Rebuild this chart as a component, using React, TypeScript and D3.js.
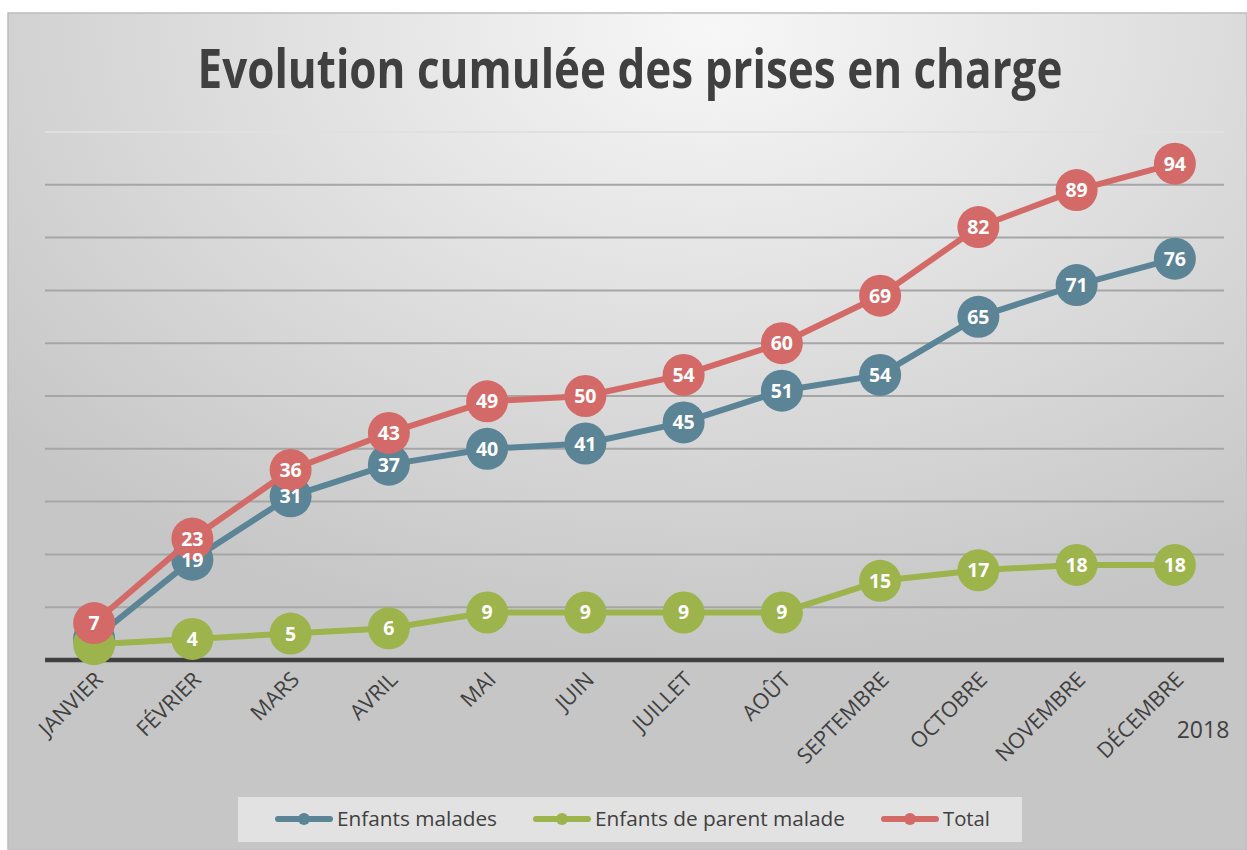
import React from "react";
import * as d3 from "d3";

const months = ["JANVIER", "FÉVRIER", "MARS", "AVRIL", "MAI", "JUIN", "JUILLET", "AOÛT", "SEPTEMBRE", "OCTOBRE", "NOVEMBRE", "DÉCEMBRE"];
const enfantsMalades = [4, 19, 31, 37, 40, 41, 45, 51, 54, 65, 71, 76];
const enfantsParentMalade = [3, 4, 5, 6, 9, 9, 9, 9, 15, 17, 18, 18];
const total = [7, 23, 36, 43, 49, 50, 54, 60, 69, 82, 89, 94];
const yTicks = [0, 10, 20, 30, 40, 50, 60, 70, 80, 90, 100];
const seriesNames = ["Enfants malades", "Enfants de parent malade", "Total"];
const seriesColors = ["#5b8496", "#9db34b", "#d46a67"];
const title = "Evolution cumulée des prises en charge";
const yearLabel = "2018";

const W = 1247;
const H = 850;
const FONT = "'Open Sans', 'Noto Sans', sans-serif";

export default function App() {
  const x = d3.scaleBand<string>().domain(months).range([45, 1224]);
  const y = d3.scaleLinear().domain([0, 100]).range([660, 132]);
  const cx = (m: string) => (x(m) as number) + x.bandwidth() / 2;
  const line = d3
    .line<number>()
    .x((_, i) => cx(months[i]))
    .y((d) => y(d));
  const series = [enfantsMalades, enfantsParentMalade, total];

  const legendItems = [
    { lx: 278, tx: 337, tl: 160 },
    { lx: 536, tx: 595, tl: 250 },
    { lx: 884, tx: 943, tl: 47 },
  ];

  return (
    <svg width={W} height={H} style={{ position: "absolute", left: 0, top: 0 }} fontFamily={FONT}>
      <defs>
        <radialGradient id="bg" cx="0.57" cy="0.02" r="0.75" gradientUnits="objectBoundingBox">
          <stop offset="0" stopColor="#f7f7f7" />
          <stop offset="0.55" stopColor="#dcdcdc" />
          <stop offset="1" stopColor="#c6c6c6" />
        </radialGradient>
      </defs>
      <rect x={0} y={0} width={W} height={H} fill="#ffffff" />
      <rect x={8} y={13} width={W - 8} height={H - 13} fill="url(#bg)" stroke="#bdbdbd" strokeWidth={1.5} />

      <text x={630} y={88} textAnchor="middle" fontSize={53} fontWeight={700} fill="#404040" textLength={865} lengthAdjust="spacingAndGlyphs">
        {title}
      </text>

      {yTicks.slice(1).map((t) => (
        <line key={"g" + t} x1={45} x2={1224} y1={y(t)} y2={y(t)} stroke={t === 100 ? "#e0e0e0" : "#a6a6a6"} strokeWidth={2} />
      ))}
      <line x1={45} x2={1224} y1={y(0)} y2={y(0)} stroke="#404040" strokeWidth={4.5} />

      {months.map((m) => (
        <text
          key={m}
          transform={`translate(${cx(m) + 10},${681}) rotate(-45)`}
          textAnchor="end"
          fontSize={21.5}
          fill="#404040"
        >
          {m}
        </text>
      ))}
      <text x={1203} y={738} textAnchor="middle" fontSize={23} fill="#404040">
        {yearLabel}
      </text>

      {series.map((s, si) => (
        <g key={si}>
          <path d={line(s) as string} fill="none" stroke={seriesColors[si]} strokeWidth={6} strokeLinejoin="round" />
          {s.map((v, i) => (
            <circle key={i} cx={cx(months[i])} cy={y(v)} r={21} fill={seriesColors[si]} />
          ))}
        </g>
      ))}
      {series.map((s, si) => (
        <g key={"l" + si}>
          {s.map((v, i) =>
            i === 0 && si < 2 ? null : (
              <text key={i} x={cx(months[i])} y={y(v) + 7} textAnchor="middle" fontSize={19.5} fontWeight={700} fill="#ffffff">
                {v}
              </text>
            )
          )}
        </g>
      ))}

      <rect x={238} y={797} width={784} height={45} fill="#e2e2e2" />
      {seriesNames.map((n, i) => {
        const it = legendItems[i];
        return (
          <g key={n}>
            <line x1={it.lx} x2={it.lx + 52} y1={819} y2={819} stroke={seriesColors[i]} strokeWidth={6} strokeLinecap="round" />
            <circle cx={it.lx + 26} cy={819} r={6} fill={seriesColors[i]} />
            <text x={it.tx} y={826} fontSize={20} fill="#404040" textLength={it.tl} lengthAdjust="spacingAndGlyphs">
              {n}
            </text>
          </g>
        );
      })}
    </svg>
  );
}
